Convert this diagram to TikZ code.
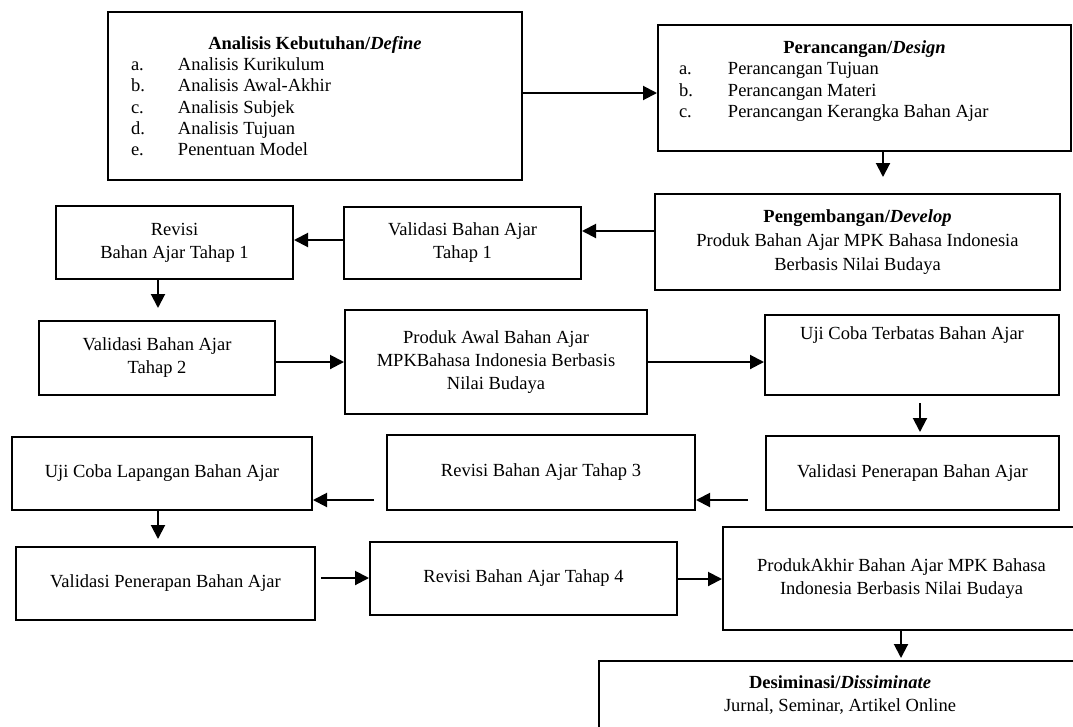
\documentclass[tikz,border=0pt]{standalone}
\usepackage{fontspec}
\setmainfont{Liberation Serif}
\usepackage{tikz}
\usetikzlibrary{positioning}
\usetikzlibrary{arrows.meta}
\usepackage{xcolor}
\renewcommand{\arraystretch}{0.93}

\begin{document}
\begin{tikzpicture}[x=1pt, y=-1pt,
			box/.style={draw=black, line width=2pt, align=center, inner sep=0pt, font=\fontsize{18.5}{23}\selectfont},
			arr/.style={black, line width=2pt, -{Triangle[length=14pt, width=14pt]}}]
			\useasboundingbox (0,0) rectangle (1073,726);
			\clip (0,0) rectangle (1073,726);
			\node[box, minimum width=414pt, minimum height=168pt] (ana) at (315,96) {\begin{tabular}{@{}p{47pt}@{}p{321pt}@{}}\\[-17pt]\multicolumn{2}{@{}c@{}}{\bfseries Analisis Kebutuhan/\textit{Define}}\\ a.&Analisis Kurikulum\\ b.&Analisis Awal-Akhir\\ c.&Analisis Subjek\\ d.&Analisis Tujuan\\ e.&Penentuan Model\end{tabular}};
			\node[box, minimum width=413pt, minimum height=126pt] (per) at (864.5,88) {\begin{tabular}{@{}p{49pt}@{}p{322pt}@{}}\multicolumn{2}{@{}c@{}}{\bfseries Perancangan/\textit{Design}}\\ a.&Perancangan Tujuan\\ b.&Perancangan Materi\\ c.&Perancangan Kerangka Bahan Ajar\\[-8pt] &\end{tabular}};
			\node[box, minimum width=405pt, minimum height=96pt, font=\fontsize{18.5}{24}\selectfont] (dev) at (857.5,242) {{\bfseries Pengembangan/\textit{Develop}}\\Produk Bahan Ajar MPK Bahasa Indonesia\\Berbasis Nilai Budaya};
			\node[box, minimum width=237pt, minimum height=72pt] (val1) at (462.5,243) {Validasi Bahan Ajar\\Tahap 1};
			\node[box, minimum width=237pt, minimum height=73pt] (rev1) at (174.5,242.5) {Revisi\\Bahan Ajar Tahap 1};
			\node[box, minimum width=236pt, minimum height=74pt] (val2) at (157,358) {Validasi Bahan Ajar\\Tahap 2};
			\node[box, minimum width=302pt, minimum height=104pt] (awal) at (496,362) {Produk Awal Bahan Ajar\\MPKBahasa Indonesia Berbasis\\Nilai Budaya};
			\node[box, minimum width=294pt, minimum height=80pt] (ujiT) at (912,355) {Uji Coba Terbatas Bahan Ajar\\[20pt]\mbox{}};
			\node[box, minimum width=293pt, minimum height=74pt] (vpR) at (912.5,473) {Validasi Penerapan Bahan Ajar};
			\node[box, minimum width=308pt, minimum height=75pt] (rev3) at (541,472.5) {Revisi Bahan Ajar Tahap 3};
			\node[box, minimum width=300pt, minimum height=73pt] (ujiL) at (162,473.5) {Uji Coba Lapangan Bahan Ajar};
			\node[box, minimum width=299pt, minimum height=73pt] (vpL) at (165.5,583.5) {Validasi Penerapan Bahan Ajar};
			\node[box, minimum width=307pt, minimum height=73pt] (rev4) at (523.5,578.5) {Revisi Bahan Ajar Tahap 4};
			\node[box, minimum width=357pt, minimum height=103pt] (akhir) at (901.5,578.5) {ProdukAkhir Bahan Ajar MPK Bahasa\\Indonesia Berbasis Nilai Budaya};
			\node[box, minimum width=482pt, minimum height=68pt] (dis) at (840,695) {{\bfseries Desiminasi/\textit{Dissiminate}}\\Jurnal, Seminar, Artikel Online};
			\draw[arr] (ana.east |- 0,93) -- (per.west |- 0,93);
			\draw[arr, shorten >=16pt] (per.south -| 883,0) -- (dev.north -| 883,0);
			\draw[arr] (dev.west |- 0,231) -- (val1.east |- 0,231);
			\draw[arr] (val1.west |- 0,240) -- (rev1.east |- 0,240);
			\draw[arr, shorten >=12pt] (rev1.south -| 158,0) -- (val2.north -| 158,0);
			\draw[arr] (val2.east |- 0,362) -- (awal.west |- 0,362);
			\draw[arr] (awal.east |- 0,362) -- (ujiT.west |- 0,362);
			\draw[arr, shorten <=7pt, shorten >=3pt] (ujiT.south -| 920,0) -- (vpR.north -| 920,0);
			\draw[arr, shorten <=17pt] (vpR.west |- 0,500) -- (rev3.east |- 0,500);
			\draw[arr, shorten <=12pt] (rev3.west |- 0,500) -- (ujiL.east |- 0,500);
			\draw[arr, shorten >=7pt] (ujiL.south -| 158,0) -- (vpL.north -| 158,0);
			\draw[arr, shorten <=5pt] (vpL.east |- 0,578) -- (rev4.west |- 0,578);
			\draw[arr] (rev4.east |- 0,579) -- (akhir.west |- 0,579);
			\draw[arr, shorten >=2pt] (akhir.south -| 901,0) -- (dis.north -| 901,0);
		\end{tikzpicture}
\end{document}
